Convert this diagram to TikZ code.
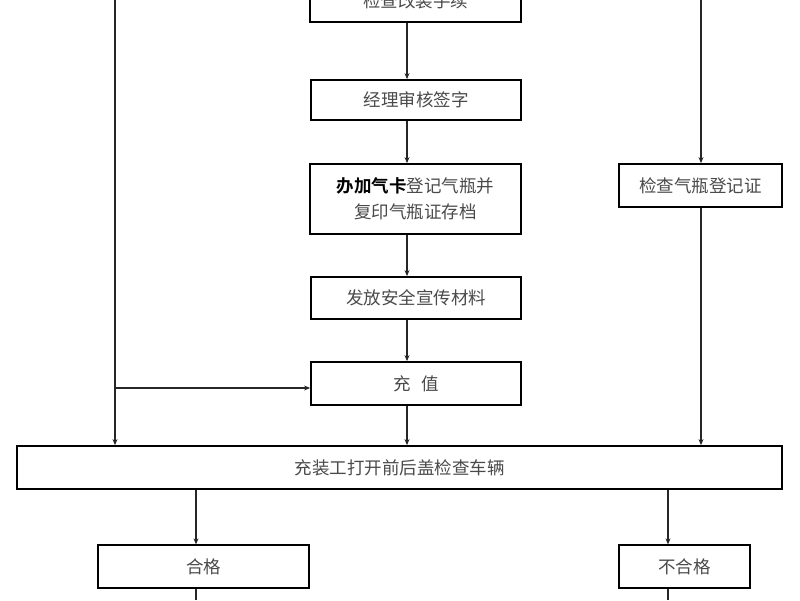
\documentclass[tikz,border=0pt]{standalone}
\usepackage{fontspec}
\setmainfont{Noto Sans CJK SC}
\newfontfamily\cjkbold{Noto Sans CJK SC Bold}
\usetikzlibrary{arrows.meta}
\definecolor{txt}{HTML}{4A4A4A}
\tikzset{
  box/.style={draw=black, line width=1.8pt, fill=white, text=txt, font=\fontsize{17.5}{26}\selectfont, align=center, inner sep=0pt},
  thinbox/.style={box, line width=1.3pt},
  conn/.style={line width=1.6pt, draw=black!85},
  arr/.style={conn, -{Stealth[length=6pt,width=5pt]}}
}
\begin{document}
\begin{tikzpicture}[x=1pt,y=-1pt]
\useasboundingbox (0,0) rectangle (800,600);
\clip (0,0) rectangle (800,600);
\fill[white] (0,0) rectangle (800,600);
% boxes
\node[box, minimum width=211pt, minimum height=43pt] (top) at (415.5,0.5) {检查改装手续};
\node[box, minimum width=210pt, minimum height=40pt] (jl) at (416,100) {经理审核签字};
\node[box, minimum width=211pt, minimum height=70pt] (card) at (415.5,199) {{\cjkbold\color{black}办加气卡}登记气瓶并\\复印气瓶证存档};
\node[box, minimum width=210pt, minimum height=42pt] (ff) at (416,298) {发放安全宣传材料};
\node[box, minimum width=210pt, minimum height=43pt] (cz) at (416,383.5) {充\hspace{0.6em}值};
\node[box, minimum width=163pt, minimum height=43pt] (jc) at (700.5,185.5) {检查气瓶登记证};
\node[box, minimum width=765pt, minimum height=43pt] (big) at (399.5,467.5) {充装工打开前后盖检查车辆};
\node[thinbox, minimum width=211pt, minimum height=43pt] (pass) at (203.5,566.5) {合格};
\node[thinbox, minimum width=131pt, minimum height=43pt] (fail) at (684.5,566.5) {不合格};
% column coordinates
\coordinate (M) at (407,0);
\coordinate (L0) at (115,0);
\coordinate (Lb) at (115,388);
\coordinate (R0) at (701,0);
\coordinate (P) at (196,0);
\coordinate (F) at (668,0);
\coordinate (Pend) at (196,600);
\coordinate (Fend) at (668,600);
% middle column
\draw[arr] (top.south -| M) -- (jl.north -| M);
\draw[arr] (jl.south -| M) -- (card.north -| M);
\draw[arr] (card.south -| M) -- (ff.north -| M);
\draw[arr] (ff.south -| M) -- (cz.north -| M);
\draw[arr] (cz.south -| M) -- (big.north -| M);
% left column
\draw[arr] (L0) -- (big.north -| L0);
\draw[arr] (Lb) -- (cz.west |- Lb);
% right column
\draw[arr] (R0) -- (jc.north -| R0);
\draw[arr] (jc.south -| R0) -- (big.north -| R0);
% bottom
\draw[arr] (big.south -| P) -- (pass.north -| P);
\draw[arr] (big.south -| F) -- (fail.north -| F);
\draw[conn] (pass.south -| P) -- (Pend);
\draw[conn] (fail.south -| F) -- (Fend);
\end{tikzpicture}
\end{document}
